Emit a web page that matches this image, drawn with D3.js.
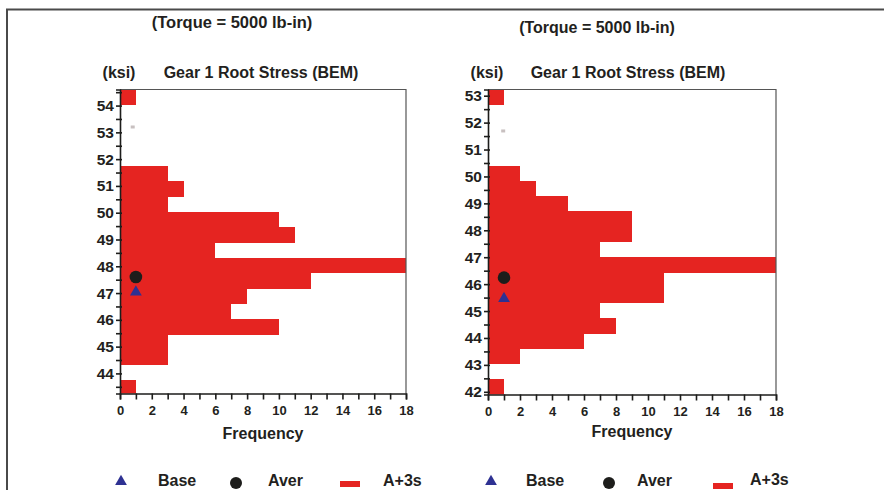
<!DOCTYPE html>
<html>
<head>
<meta charset="utf-8">
<script src="https://cdn.jsdelivr.net/npm/d3@7"></script>
<style>
  html, body { margin: 0; padding: 0; background: #fff; }
  svg { display: block; }
  text { font-family: "Liberation Sans", Arial, sans-serif; font-weight: bold; fill: #231f20; }
</style>
</head>
<body>
<div id="chart"></div>
<script>
// ---------------- DATA ----------------
const titles = ["(Torque = 5000 lb-in)", "(Torque = 5000 lb-in)"];
const chartTitle = "Gear 1 Root Stress (BEM)";
const unitLabel = "(ksi)";
const xLabel = "Frequency";
const legendLabels = ["Base", "Aver", "A+3s"];

// x axis (frequency)
const xDomain = [0, 18];
const xTickLabels = [0, 2, 4, 6, 8, 10, 12, 14, 16, 18];

// Left chart: bin edges (ksi, from top) and counts
const leftYDomain = [43.25, 54.6];
const leftYTicks = [44, 45, 46, 47, 48, 49, 50, 51, 52, 53, 54];
const leftEdges = [54.60, 54.03, 53.46, 52.88, 52.31, 51.74, 51.17, 50.60, 50.02, 49.45, 48.88,
                   48.31, 47.74, 47.17, 46.60, 46.02, 45.45, 44.88, 44.31, 43.74, 43.17];
const leftCounts = [1, 0, 0, 0, 0, 3, 4, 3, 10, 11, 6, 18, 12, 8, 7, 10, 3, 3, 0, 1];
const leftBase = { f: 1, v: 47.04 };
const leftAver = { f: 1, v: 47.60 };
const leftA3s  = { f: 0.8, v: 53.2 };

// Right chart
const rightYDomain = [41.9, 53.23];
const rightYTicks = [42, 43, 44, 45, 46, 47, 48, 49, 50, 51, 52, 53];
const rightEdges = [53.23, 52.66, 52.10, 51.53, 50.96, 50.40, 49.83, 49.26, 48.70, 48.13, 47.56,
                    47.00, 46.43, 45.86, 45.30, 44.73, 44.16, 43.60, 43.03, 42.46, 41.90];
const rightCounts = [1, 0, 0, 0, 0, 2, 3, 5, 9, 9, 7, 18, 11, 11, 7, 8, 6, 2, 0, 1];
const rightBase = { f: 1, v: 45.46 };
const rightAver = { f: 1, v: 46.24 };
const rightA3s  = { f: 0.95, v: 51.69 };

// ---------------- STYLE ----------------
const RED = "#e52421", BLUE = "#2e3192", BLACK = "#1d1d1b";

const W = 884, H = 490;
const svg = d3.select("#chart").append("svg").attr("width", W).attr("height", H);

// outer frame
svg.append("path").attr("d", `M7,${H} V9.5 H${W}`)
  .attr("fill", "none").attr("stroke", "#4a4a4a").attr("stroke-width", 2);

const charts = [
  { title: titles[0], titleX: 232, titleY: 28, titleSize: 16.5,
    xr: [120, 406], yr: [393.5, 89.5], yDomain: leftYDomain, yTicks: leftYTicks,
    edges: leftEdges, counts: leftCounts, base: leftBase, aver: leftAver, a3s: leftA3s,
    ksiX: 119, headX: 261, freqX: 263, freqY: 438.5,
    legend: { tri: 121, base: 158, circ: 236, aver: 268, rect: 340, rectY: 481, a3s: 383, a3sY: 486, baseY: 486 } },
  { title: titles[1], titleX: 597, titleY: 33, titleSize: 16,
    xr: [488, 776], yr: [394.5, 89.5], yDomain: rightYDomain, yTicks: rightYTicks,
    edges: rightEdges, counts: rightCounts, base: rightBase, aver: rightAver, a3s: rightA3s,
    ksiX: 487, headX: 628, freqX: 632, freqY: 436.5,
    legend: { tri: 491, base: 526, circ: 609, aver: 637, rect: 713, rectY: 483, a3s: 750, a3sY: 485, baseY: 486 } }
];

charts.forEach((c, ci) => {
  const x = d3.scaleLinear().domain(xDomain).range(c.xr);
  const y = d3.scaleLinear().domain(c.yDomain).range(c.yr);
  const g = svg.append("g");

  g.append("text").attr("x", c.titleX).attr("y", c.titleY).attr("text-anchor", "middle")
    .style("font-size", c.titleSize + "px").text(c.title);
  g.append("text").attr("x", c.ksiX).attr("y", 78).attr("text-anchor", "middle")
    .style("font-size", "16px").text(unitLabel);
  g.append("text").attr("x", c.headX).attr("y", 78).attr("text-anchor", "middle")
    .style("font-size", "16px").text(chartTitle);

  const clipId = "clip" + ci;
  svg.append("clipPath").attr("id", clipId).append("rect")
    .attr("x", c.xr[0]).attr("y", c.yr[1]).attr("width", c.xr[1] - c.xr[0]).attr("height", c.yr[0] - c.yr[1]);

  // bars (pixel-snapped so adjacent bins join without seams)
  const bins = c.counts.map((n, i) => ({ n, top: c.edges[i], bottom: c.edges[i + 1] }));
  g.append("g").attr("clip-path", `url(#${clipId})`)
    .selectAll("rect").data(bins.filter(b => b.n > 0)).join("rect")
    .attr("x", x(0))
    .attr("y", d => Math.round(y(d.top)))
    .attr("width", d => x(d.n) - x(0))
    .attr("height", d => Math.round(y(d.bottom)) - Math.round(y(d.top)))
    .attr("fill", RED)
    .attr("shape-rendering", "crispEdges");

  // faint A+3s mark
  g.append("rect").attr("x", x(c.a3s.f) - 2).attr("y", y(c.a3s.v) - 1.5)
    .attr("width", 4).attr("height", 3).attr("fill", "#c8c0c0");

  // plot frame (top/right)
  g.append("path").attr("d", `M${c.xr[0]},${c.yr[1]} H${c.xr[1]} V${c.yr[0]}`)
    .attr("fill", "none").attr("stroke", "#555").attr("stroke-width", 1.2);

  // y axis
  const yMinor = d3.range(Math.ceil(c.yDomain[0] * 2) / 2, c.yDomain[1], 0.5);
  const yAxis = d3.axisLeft(y).tickValues(yMinor).tickSize(4).tickFormat(d => Number.isInteger(d) ? d : "");
  const ya = g.append("g").attr("transform", `translate(${c.xr[0]},0)`).call(yAxis);
  ya.select(".domain").attr("stroke", BLACK).attr("stroke-width", 1.6);
  ya.selectAll(".tick line").attr("stroke", BLACK).attr("stroke-width", 1.6).attr("x2", -4).attr("x1", 2);
  ya.selectAll(".tick text").attr("x", -6).style("font-size", "15.5px")
    .style("font-family", "Liberation Sans, Arial, sans-serif").style("font-weight", "bold").attr("fill", "#231f20");

  // x axis
  const xAxis = d3.axisBottom(x).tickValues(d3.range(xDomain[0], xDomain[1] + 1, 1)).tickSize(6)
    .tickFormat(d => xTickLabels.includes(d) ? d : "");
  const xa = g.append("g").attr("transform", `translate(0,${c.yr[0]})`).call(xAxis);
  xa.select(".domain").attr("stroke", BLACK).attr("stroke-width", 1.6);
  xa.selectAll(".tick line").attr("stroke", BLACK).attr("stroke-width", 1.6);
  xa.selectAll(".tick text").attr("y", 12).style("font-size", "13px")
    .style("font-family", "Liberation Sans, Arial, sans-serif").style("font-weight", "bold").attr("fill", "#231f20");

  g.append("text").attr("x", c.freqX).attr("y", c.freqY).attr("text-anchor", "middle")
    .style("font-size", "16px").text(xLabel);

  // markers
  const tri = d3.symbol().type(d3.symbolTriangle).size(60);
  g.append("path").attr("d", tri()).attr("fill", BLUE)
    .attr("transform", `translate(${x(c.base.f)},${y(c.base.v)})`);
  g.append("circle").attr("cx", x(c.aver.f)).attr("cy", y(c.aver.v)).attr("r", 6.3).attr("fill", BLACK);

  // legend
  const L = c.legend;
  g.append("path").attr("d", tri()).attr("fill", BLUE).attr("transform", `translate(${L.tri},481.5)`);
  g.append("text").attr("x", L.base).attr("y", L.baseY).style("font-size", "16px").text(legendLabels[0]);
  g.append("circle").attr("cx", L.circ).attr("cy", 483).attr("r", 6).attr("fill", BLACK);
  g.append("text").attr("x", L.aver).attr("y", L.baseY).style("font-size", "16px").text(legendLabels[1]);
  g.append("rect").attr("x", L.rect).attr("y", L.rectY).attr("width", 20).attr("height", 6).attr("fill", RED);
  g.append("text").attr("x", L.a3s).attr("y", L.a3sY).style("font-size", "16px").text(legendLabels[2]);
});
</script>
</body>
</html>
